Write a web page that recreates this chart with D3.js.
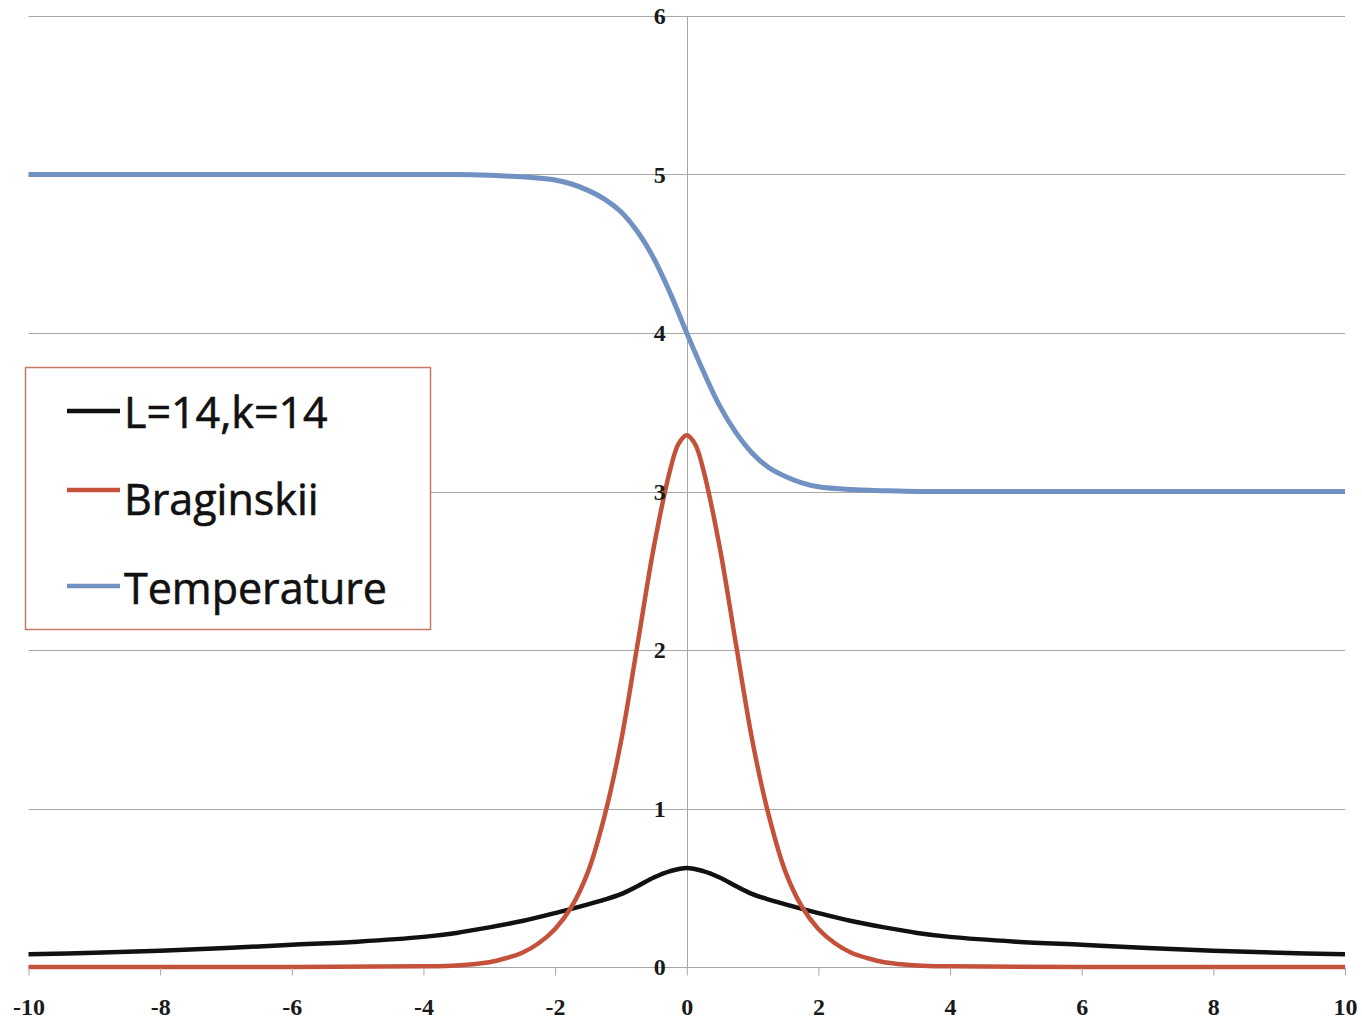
<!DOCTYPE html>
<html><head><meta charset="utf-8">
<script src="https://cdn.jsdelivr.net/npm/d3@7"></script>
<style>body{margin:0;background:#fff}svg{display:block}</style>
</head><body>
<svg id="chart" width="1362" height="1021"></svg>
<script>
const xTicks = [-10,-8,-6,-4,-2,0,2,4,6,8,10];
const yTicks = [0,1,2,3,4,5,6];
const seriesNames = ["L=14,k=14","Braginskii","Temperature"];

const xTemp = [-10,-8,-6,-4,-3.5,-3,-2.5,-2,-1.75,-1.5,-1.25,-1,-0.75,-0.5,-0.25,0,0.25,0.5,0.75,1,1.25,1.5,1.75,2,2.5,3,3.5,4,6,8,10];
const temperature = [5,5,5,5,5,4.995,4.985,4.965,4.94,4.9,4.845,4.765,4.64,4.47,4.25,4.0,3.76,3.54,3.37,3.24,3.15,3.095,3.055,3.03,3.012,3.005,3.0,3.0,3.0,3.0,3.0];

const xBrag = [-10,-6,-4,-3.5,-3,-2.75,-2.5,-2.25,-2,-1.75,-1.5,-1.25,-1,-0.75,-0.5,-0.25,-0.125,0,0.125,0.25,0.5,0.75,1,1.25,1.5,1.75,2,2.25,2.5,2.75,3,3.5,4,6,10];
const braginskii = [0,0,0.004,0.01,0.03,0.055,0.09,0.15,0.24,0.38,0.6,0.95,1.42,2.03,2.65,3.14,3.30,3.355,3.30,3.14,2.65,2.03,1.42,0.95,0.6,0.38,0.24,0.15,0.09,0.055,0.03,0.01,0.004,0,0];

const xLk = [-10,-9,-8,-7,-6,-5,-4,-3.5,-3,-2.5,-2,-1.5,-1.25,-1,-0.75,-0.5,-0.25,0,0.25,0.5,0.75,1,1.25,1.5,2,2.5,3,3.5,4,5,6,7,8,9,10];
const lk14 = [0.08,0.09,0.103,0.12,0.14,0.16,0.19,0.215,0.25,0.29,0.34,0.395,0.425,0.46,0.51,0.565,0.605,0.625,0.605,0.565,0.51,0.46,0.425,0.395,0.34,0.29,0.25,0.215,0.19,0.16,0.14,0.12,0.103,0.09,0.08];

const colors = {lk:"#111111", brag:"#c4523a", temp:"#7091c2"};

const svg = d3.select("#chart");
const x = d3.scaleLinear().domain([-10,10]).range([28.5,1345]);
const y = d3.scaleLinear().domain([0,6]).range([967,16]);

// horizontal gridlines
svg.append("g").selectAll("line").data(yTicks).join("line")
  .attr("x1", x(-10)).attr("x2", x(10))
  .attr("y1", d => Math.round(y(d))+0.5).attr("y2", d => Math.round(y(d))+0.5)
  .attr("stroke", "#a6a6a6").attr("stroke-width", 1);

// vertical axis line at x=0
svg.append("line").attr("x1", Math.round(x(0))+0.5).attr("x2", Math.round(x(0))+0.5)
  .attr("y1", y(6)).attr("y2", y(0)).attr("stroke", "#a6a6a6");

// lines
const mk = (xs, vs) => xs.map((d,i) => [d, vs[i]]);
const line = d3.line().x(d => x(d[0])).y(d => y(d[1])).curve(d3.curveCatmullRom.alpha(0.5));
svg.append("path").datum(mk(xTemp, temperature)).attr("d", line)
  .attr("fill","none").attr("stroke", colors.temp).attr("stroke-width", 5);
svg.append("path").datum(mk(xLk, lk14)).attr("d", line)
  .attr("fill","none").attr("stroke", colors.lk).attr("stroke-width", 4.5);
svg.append("path").datum(mk(xBrag, braginskii)).attr("d", line)
  .attr("fill","none").attr("stroke", colors.brag).attr("stroke-width", 4.5);

const fmt = d => String(d);
// x axis ticks and labels
const xAxis = d3.axisBottom(x).tickValues(xTicks).tickSize(8).tickFormat(fmt);
const gx = svg.append("g").attr("transform", `translate(0,${Math.round(y(0))+0.5})`).call(xAxis);
gx.select(".domain").remove();
gx.selectAll(".tick line").attr("stroke", "#a6a6a6");
gx.selectAll(".tick text").attr("y", 39).attr("dy", "0.35em")
  .attr("font-family", "'Liberation Serif', serif").attr("font-weight", "bold")
  .attr("font-size", 24).attr("fill", "#1a1a1a");

// y axis labels
const yAxis = d3.axisLeft(y).tickValues(yTicks).tickSize(0).tickPadding(21).tickFormat(fmt);
const gy = svg.append("g").attr("transform", `translate(${x(0)},0)`).call(yAxis);
gy.select(".domain").remove();
gy.selectAll(".tick text").attr("dy", "0.33em")
  .attr("font-family", "'Liberation Serif', serif").attr("font-weight", "bold")
  .attr("font-size", 24).attr("fill", "#1a1a1a");

// legend
const lg = svg.append("g");
lg.append("rect").attr("x", 25.5).attr("y", 367.5).attr("width", 405).attr("height", 262)
  .attr("fill", "#fff").attr("stroke", "#c47a66").attr("stroke-width", 1.5);
const items = [
  {name: seriesNames[0], color: colors.lk, ly: 411, ty: 428},
  {name: seriesNames[1], color: colors.brag, ly: 490, ty: 515},
  {name: seriesNames[2], color: colors.temp, ly: 586, ty: 604}
];
items.forEach(it => {
  lg.append("line").attr("x1", 67).attr("x2", 120).attr("y1", it.ly).attr("y2", it.ly)
    .attr("stroke", it.color).attr("stroke-width", 4.5);
  lg.append("text").attr("x", 124).attr("y", it.ty).text(it.name)
    .attr("font-family", "'Open Sans', sans-serif").attr("font-size", 43)
    .attr("font-weight", 500).attr("fill", "#111")
    .attr("stroke", "#111").attr("stroke-width", 0.6);
});
</script>
</body></html>
